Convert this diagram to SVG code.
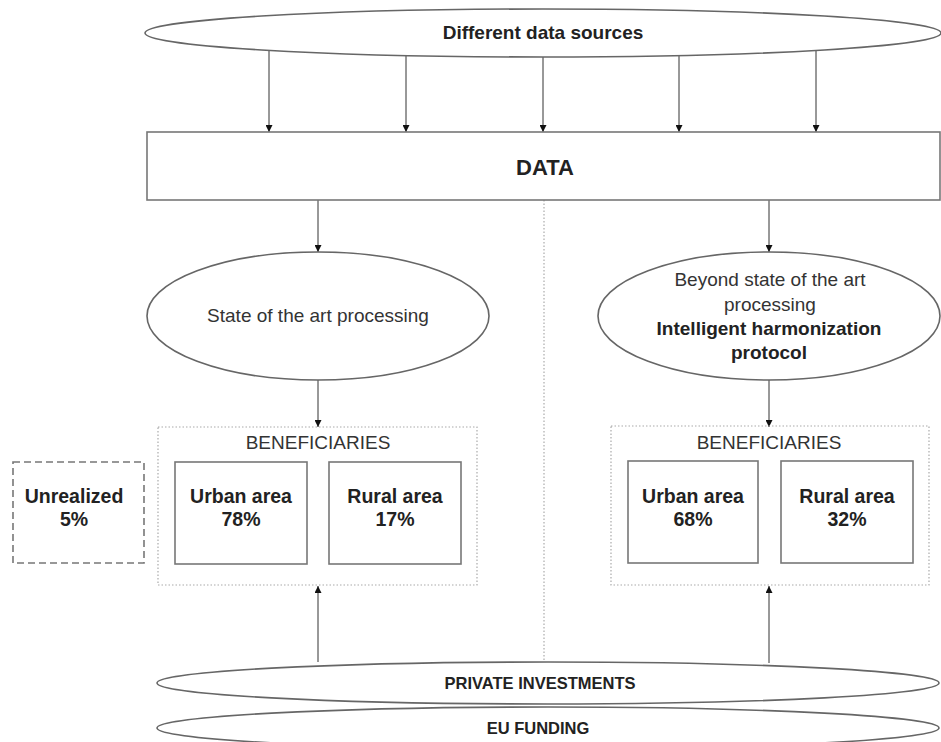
<svg xmlns="http://www.w3.org/2000/svg" width="941" height="742" viewBox="0 0 941 742">
<defs>
<marker id="ah" viewBox="0 0 10 10" refX="10" refY="5" markerWidth="7" markerHeight="7" markerUnits="userSpaceOnUse" orient="auto">
<path d="M0,0 L10,5 L0,10 Z" fill="#111"/>
</marker>
<style>
.shape{fill:#fff;stroke:#666;stroke-width:1.6}
.box{fill:#fff;stroke:#777;stroke-width:1.6}
.dot{fill:none;stroke:#aaa;stroke-width:1.2;stroke-dasharray:1.5 2}
.dash{fill:none;stroke:#777;stroke-width:1.6;stroke-dasharray:7 4}
.t{font-family:"Liberation Sans",Arial,sans-serif;fill:#333;text-anchor:middle}
.n{font-size:19px}
.b{font-size:19.5px;font-weight:bold;fill:#222}
.conn{stroke:#333;stroke-width:1;fill:none;marker-end:url(#ah)}
.sep{stroke:#999;stroke-width:1;stroke-dasharray:1.5 2;fill:none}
</style>
</defs>
<rect width="941" height="742" fill="#fff"/>

<g id="connectors">
<line class="sep" x1="544" y1="200" x2="544" y2="662"/>
<line class="conn" x1="269" y1="50" x2="269" y2="132"/>
<line class="conn" x1="406" y1="55" x2="406" y2="132"/>
<line class="conn" x1="543" y1="57" x2="543" y2="132"/>
<line class="conn" x1="679" y1="55" x2="679" y2="132"/>
<line class="conn" x1="816" y1="50" x2="816" y2="132"/>
<line class="conn" x1="318" y1="200" x2="318" y2="252"/>
<line class="conn" x1="769" y1="200" x2="769" y2="252"/>
<line class="conn" x1="318" y1="380" x2="318" y2="427"/>
<line class="conn" x1="769" y1="380" x2="769" y2="427"/>
<line class="conn" x1="318" y1="662" x2="318" y2="586"/>
<line class="conn" x1="769" y1="663" x2="769" y2="586"/>
</g>

<g id="sources">
<ellipse class="shape" cx="543" cy="33" rx="398" ry="24"/>
<text class="t b" x="543" y="39" style="font-size:19px">Different data sources</text>
</g>

<g id="data">
<rect class="box" x="147" y="132" width="793" height="68"/>
<text class="t b" x="545" y="175" style="font-size:22px">DATA</text>
</g>

<g id="state-processing">
<ellipse class="shape" cx="318" cy="316" rx="171" ry="64"/>
<text class="t n" x="318" y="322">State of the art processing</text>
</g>

<g id="beyond-processing">
<ellipse class="shape" cx="769" cy="316" rx="171" ry="64"/>
<text class="t n" x="770" y="286">Beyond state of the art</text>
<text class="t n" x="770" y="311">processing</text>
<text class="t b" x="769" y="335" style="font-size:19px">Intelligent harmonization</text>
<text class="t b" x="769" y="359" style="font-size:19px">protocol</text>
</g>

<g id="beneficiaries-left">
<rect class="dot" x="158" y="427" width="319" height="158"/>
<text class="t n" x="318" y="449">BENEFICIARIES</text>
</g>
<g id="urban-left">
<rect class="box" x="175" y="462" width="132" height="102"/>
<text class="t b" x="241" y="503">Urban area</text>
<text class="t b" x="241" y="526">78%</text>
</g>
<g id="rural-left">
<rect class="box" x="329" y="462" width="132" height="102"/>
<text class="t b" x="395" y="503">Rural area</text>
<text class="t b" x="395" y="526">17%</text>
</g>
<g id="unrealized">
<rect class="dash" x="13" y="462" width="131" height="101"/>
<text class="t b" x="74" y="503">Unrealized</text>
<text class="t b" x="74" y="526">5%</text>
</g>

<g id="beneficiaries-right">
<rect class="dot" x="611" y="426" width="318" height="159"/>
<text class="t n" x="769" y="449">BENEFICIARIES</text>
</g>
<g id="urban-right">
<rect class="box" x="628" y="461" width="130" height="102"/>
<text class="t b" x="693" y="503">Urban area</text>
<text class="t b" x="693" y="526">68%</text>
</g>
<g id="rural-right">
<rect class="box" x="781" y="461" width="132" height="102"/>
<text class="t b" x="847" y="503">Rural area</text>
<text class="t b" x="847" y="526">32%</text>
</g>

<g id="eu-funding">
<ellipse class="shape" cx="548" cy="728" rx="391" ry="21"/>
<text class="t b" x="538" y="734" style="font-size:16.5px">EU FUNDING</text>
</g>
<g id="private-investments">
<ellipse class="shape" cx="548" cy="683" rx="391" ry="21"/>
<text class="t b" x="540" y="689" style="font-size:16.5px">PRIVATE INVESTMENTS</text>
</g>
</svg>
